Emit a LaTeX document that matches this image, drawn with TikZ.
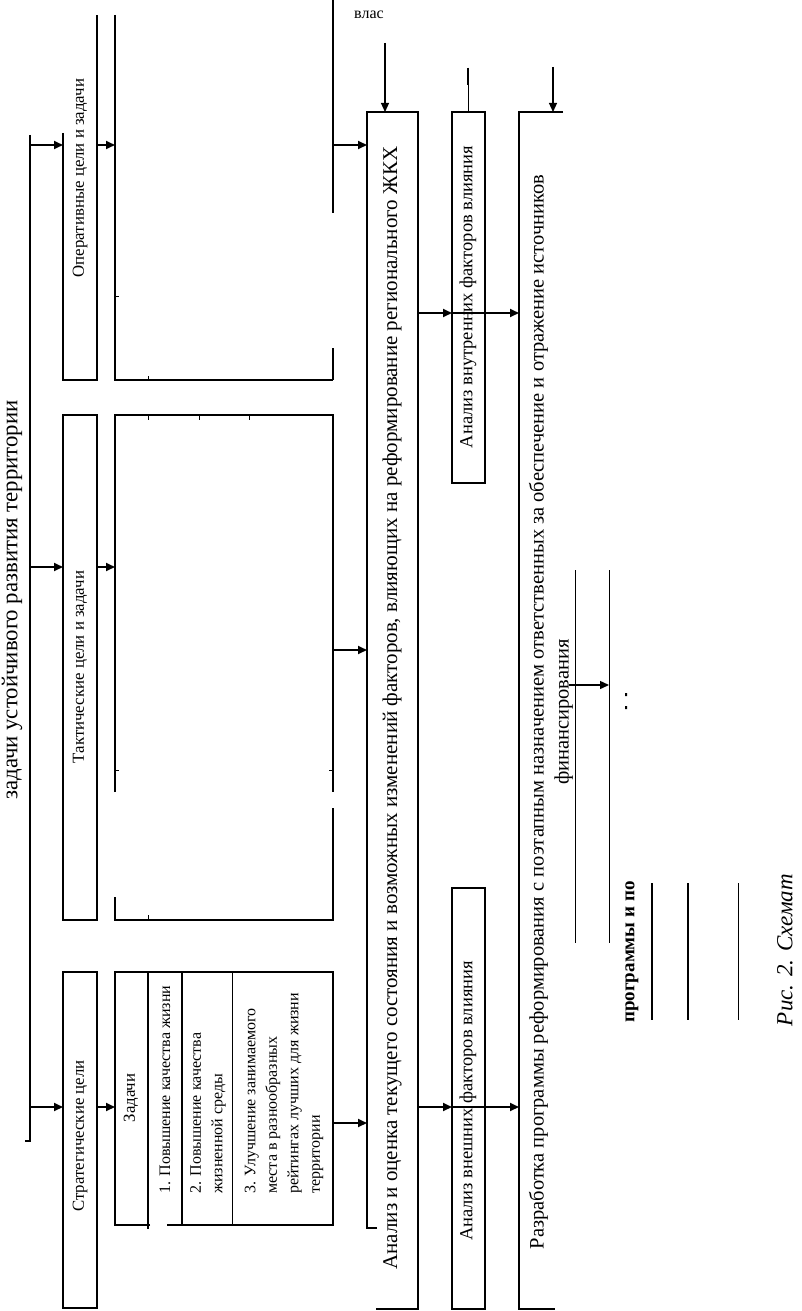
\documentclass[tikz,border=0pt]{standalone}
\usepackage{fontspec}
\setmainfont{Liberation Serif}
\usetikzlibrary{arrows.meta, positioning}

\begin{document}
\begin{tikzpicture}[x=1pt, y=-1pt,
        edge/.style={line width=1.1pt},
        thin/.style={line width=0.8pt},
        arrow/.style={-{Triangle[length=9pt, width=8pt]}, line width=1.8pt},
        vlabel/.style={rotate=90, inner sep=0pt, font=\fontsize{16.8}{21.5}\selectfont},
        cell/.style={vlabel, anchor=west, align=left, font=\fontsize{16}{21.5}\selectfont},
        vbig/.style={rotate=90, inner sep=0pt, align=center, font=\fontsize{21}{25}\selectfont}
        ]
        \useasboundingbox (0,0) rectangle (801,1311);

        % goal and bus line
        \node[vbig, font=\fontsize{22.8}{26}\selectfont] (goal) at (12,600) {задачи устойчивого развития территории};
        \coordinate (bus) at (30,135);
        \draw[edge, line width=1.6pt] (bus) -- (30,1141) -- (25,1141);

        % first column: goals
        \node[vlabel] (ops1) at (80,178) {Оперативные цели и задачи};
        \draw[edge] (63,133) -- (63,380) -- (97,380) -- (97,15);
        \node[vlabel] (tact1) at (80,667) {Тактические цели и задачи};
        \draw[edge] (63,415) rectangle (97,920);
        \node[vlabel] (strat1) at (80,1136) {Стратегические цели};
        \draw[edge] (63,972) rectangle (97,1308);

        \foreach \yy in {145,567,1107} {
            \draw[arrow] (bus |- 0,\yy) -- (63,\yy);
            \draw[arrow] (97,\yy) -- (115,\yy);
        }

        % second column: operational
        \draw[edge] (115,15) -- (115,380) -- (333,380);
        \draw[edge] (333,0) -- (333,213);
        \draw[edge] (333,348) -- (333,380);
        \draw[thin] (148,380) -- (148,376) (115,296) -- (119,296);

        % second column: tactical
        \draw[edge] (115,792) -- (115,415) -- (333,415) -- (333,792);
        \draw[edge] (115,897) -- (115,920) -- (333,920) -- (333,808);
        \foreach \xx in {148,199,249}
            \draw[thin] (\xx,415) -- (\xx,420);
        \draw[thin] (115,770) -- (119,770) (333,770) -- (329,770) (148,920) -- (148,915);

        % second column: strategic
        \draw[edge] (150,1225) -- (115,1225) -- (115,972) -- (333,972) -- (333,1225) -- (167,1225);
        \draw[edge, line width=1.5pt] (148,972) -- (148,1229);
        \draw[edge, line width=1.5pt] (182,972) -- (182,1225);
        \draw[thin] (232,972) -- (232,1225);
        \node[vlabel] (tasks) at (131,1098) {Задачи};
        \node[cell] (task1) at (165,1194) {1. Повышение качества жизни};
        \node[cell] (task2) at (208,1194) {2. Повышение качества\\жизненной среды};
        \node[cell] (task3) at (284,1194) {3. Улучшение занимаемого\\места в разнообразных\\рейтингах лучших для жизни\\территории};

        \draw[arrow] (333,145) -- (367,145);
        \draw[arrow] (333,650) -- (367,650);
        \draw[arrow] (333,1123) -- (367,1123);

        % analysis
        \node[vbig] (anal) at (392,708) {Анализ и оценка текущего состояния и возможных изменений факторов, влияющих на реформирование регионального ЖКХ};
        \draw[edge] (377,1228) -- (367,1228) -- (367,112) -- (418,112) -- (418,1309) -- (376,1309);
        \node[inner sep=0pt, font=\fontsize{16}{18}\selectfont] (power) at (369,15) {влас};
        \coordinate (powerin) at (385,43);
        \draw[arrow, line width=1.2pt] (powerin) -- (385,112);

        % factors
        \draw[edge] (452,112) rectangle (485,483);
        \node[vlabel, font=\fontsize{18.5}{22}\selectfont] (inner) at (468,297) {Анализ внутренних факторов влияния};
        \draw[edge] (452,888) rectangle (485,1309);
        \node[vlabel, font=\fontsize{18.5}{22}\selectfont] (outer) at (468,1101) {Анализ внешних факторов влияния};
        \coordinate (innerin) at (468,68);
        \draw[thin] (innerin) -- (468,112);
        \draw[line width=2pt] (innerin) -- (468,85);

        \foreach \yy in {313,1107} {
            \draw[arrow] (418,\yy) -- (452,\yy);
            \draw[arrow] (452,\yy) -- (519,\yy);
        }

        % programme
        \draw[edge] (563,112) -- (519,112) -- (519,1309) -- (555,1309);
        \node[vbig, font=\fontsize{20.5}{25}\selectfont] (prog) at (551,712) {Разработка программы реформирования с поэтапным назначением ответственных за обеспечение и отражение источников\\финансирования};
        \coordinate (progin) at (553,67);
        \draw[arrow, line width=1.2pt] (progin) -- (553,112);

        % lower right fragments
        \draw[thin] (575,570) -- (575,943) (609,570) -- (609,943);
        \draw[arrow, line width=1.4pt] (569,685) -- (609,685);
        \fill (625,693) rectangle (627,696) (625,706) rectangle (627,709);
        \node[vlabel, font=\bfseries\fontsize{19}{22}\selectfont] (rest) at (632,952) {программы и по};
        \draw[line width=2pt] (652,883) -- (652,1020) (688,883) -- (688,1020);
        \draw[thin] (738,883) -- (738,1020);

        \node[vbig, font=\itshape\fontsize{23}{26}\selectfont] (caption) at (785,950) {Рис. 2. Схемат};
\end{tikzpicture}
\end{document}
